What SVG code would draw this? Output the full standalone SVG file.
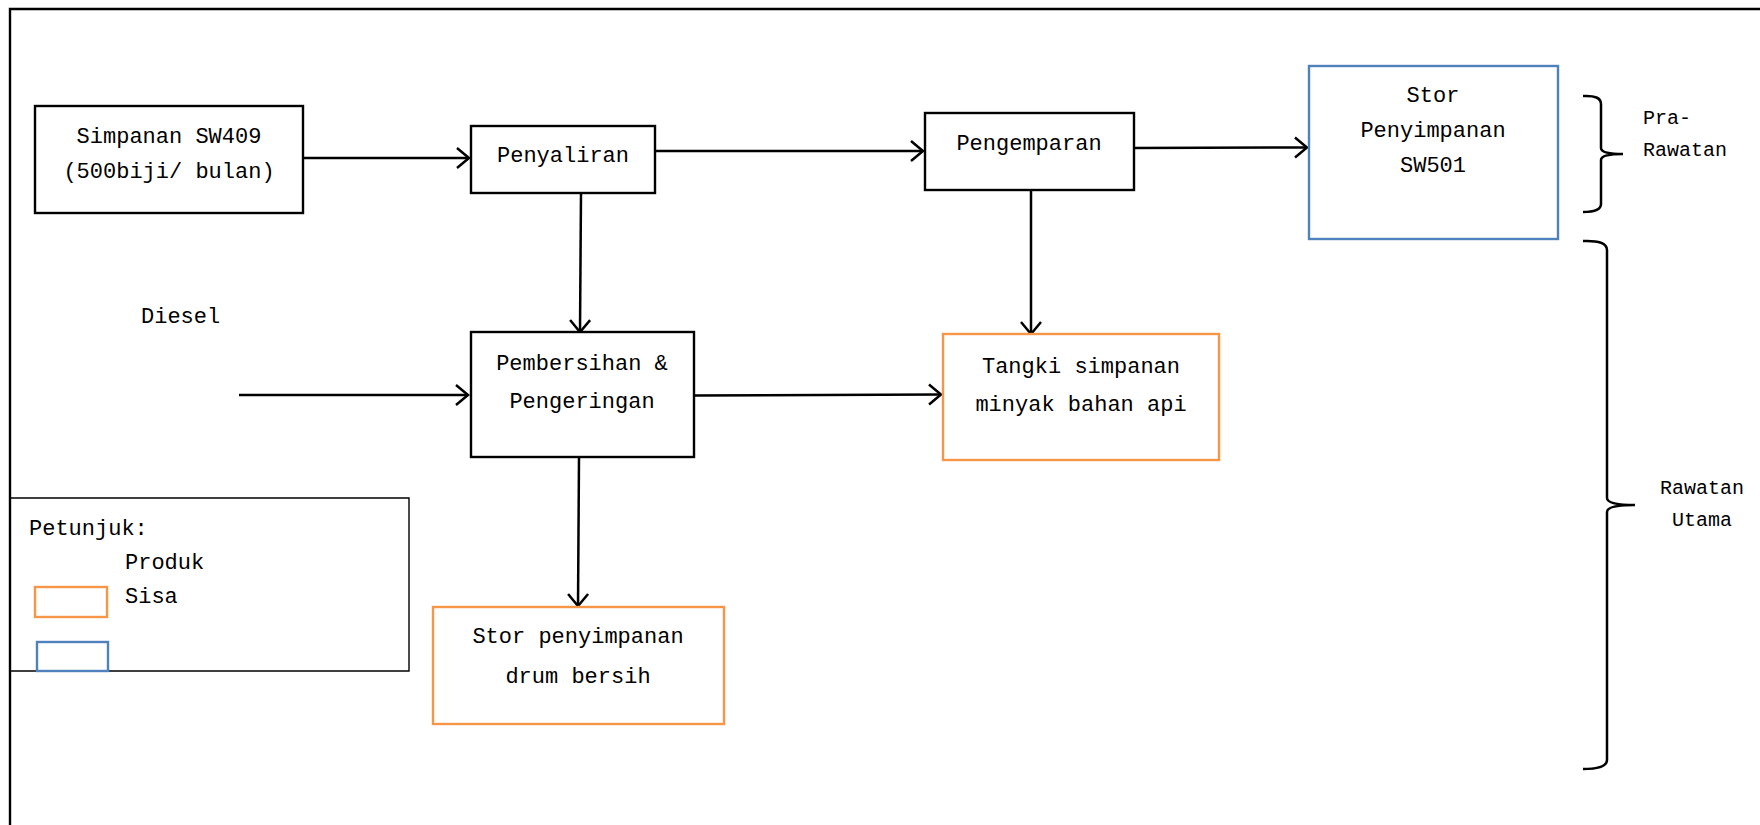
<svg xmlns="http://www.w3.org/2000/svg" width="1760" height="825" viewBox="0 0 1760 825">
<defs>
<style>
.box{fill:#fff;stroke:#000;stroke-width:2.4}
.org{fill:#fff;stroke:#F79646;stroke-width:2.4}
.blu{fill:#fff;stroke:#4F81BD;stroke-width:2.4}
.t{font-family:"Liberation Mono","DejaVu Sans Mono",monospace;font-size:22px;fill:#000}
.s{font-family:"Liberation Mono","DejaVu Sans Mono",monospace;font-size:20px;fill:#000}
.c{text-anchor:middle}
.ln{fill:none;stroke:#000;stroke-width:2.5}
</style>
<marker id="arr" markerWidth="24" markerHeight="24" refX="21" refY="12" orient="auto" markerUnits="userSpaceOnUse" viewBox="0 0 24 24">
<path d="M9,2 L21,12 L9,22" fill="none" stroke="#000" stroke-width="2.5"/>
</marker>
</defs>
<rect width="1760" height="825" fill="#fff"/>
<g id="frame">
<path d="M10,830 L10,9 L1765,9" fill="none" stroke="#000" stroke-width="2.4"/>
</g>
<g id="legend">
<path d="M10,498 L409,498 L409,671 L10,671" fill="none" stroke="#000" stroke-width="1.4"/>
<text class="t" x="29" y="535">Petunjuk:</text>
<text class="t" x="125" y="569">Produk</text>
<text class="t" x="125" y="603">Sisa</text>
<rect class="org" x="35" y="587" width="72" height="30"/>
<rect class="blu" x="37" y="642" width="71" height="29"/>
</g>
<g id="connectors">
<line class="ln" x1="303" y1="158" x2="469" y2="158" marker-end="url(#arr)"/>
<line class="ln" x1="655" y1="151" x2="923" y2="151" marker-end="url(#arr)"/>
<line class="ln" x1="1134" y1="148" x2="1307" y2="147.5" marker-end="url(#arr)"/>
<line class="ln" x1="581" y1="193" x2="580" y2="332" marker-end="url(#arr)"/>
<line class="ln" x1="239" y1="395" x2="468" y2="395" marker-end="url(#arr)"/>
<line class="ln" x1="694" y1="395.5" x2="941" y2="394.5" marker-end="url(#arr)"/>
<line class="ln" x1="1031" y1="190" x2="1031" y2="334" marker-end="url(#arr)"/>
<line class="ln" x1="579" y1="457" x2="578" y2="606" marker-end="url(#arr)"/>
</g>
<g id="simpanan">
<rect class="box" x="35" y="106" width="268" height="107"/>
<text class="t c" x="169" y="143">Simpanan SW409</text>
<text class="t c" x="169" y="178">(500biji/ bulan)</text>
</g>
<g id="penyaliran">
<rect class="box" x="471" y="126" width="184" height="67"/>
<text class="t c" x="563" y="162">Penyaliran</text>
</g>
<g id="pengemparan">
<rect class="box" x="925" y="113" width="209" height="77"/>
<text class="t c" x="1029" y="150">Pengemparan</text>
</g>
<g id="stor-sw501">
<rect class="blu" x="1309" y="66" width="249" height="173"/>
<text class="t c" x="1433" y="102">Stor</text>
<text class="t c" x="1433" y="137">Penyimpanan</text>
<text class="t c" x="1433" y="172">SW501</text>
</g>
<g id="diesel">
<text class="t" x="141" y="323">Diesel</text>
</g>
<g id="pembersihan">
<rect class="box" x="471" y="332" width="223" height="125"/>
<text class="t c" x="582" y="370">Pembersihan &amp;</text>
<text class="t c" x="582" y="408">Pengeringan</text>
</g>
<g id="tangki">
<rect class="org" x="943" y="334" width="276" height="126"/>
<text class="t c" x="1081" y="373">Tangki simpanan</text>
<text class="t c" x="1081" y="411">minyak bahan api</text>
</g>
<g id="stor-drum">
<rect class="org" x="433" y="607" width="291" height="117"/>
<text class="t c" x="578" y="643">Stor penyimpanan</text>
<text class="t c" x="578" y="683">drum bersih</text>
</g>
<g id="pra-rawatan">
<path class="ln" d="M1583,96 Q1601,95 1601,104 L1601,148 Q1601,154 1623,154 Q1601,154 1601,160 L1601,204 Q1601,212 1583,212"/>
<text class="s" x="1643" y="124">Pra-</text>
<text class="s" x="1643" y="156">Rawatan</text>
</g>
<g id="rawatan-utama">
<path class="ln" d="M1583,241 Q1607,240 1607,250 L1607,498 Q1607,505 1635,505 Q1607,505 1607,512 L1607,760 Q1607,769 1583,769"/>
<text class="s c" x="1702" y="494">Rawatan</text>
<text class="s c" x="1702" y="526">Utama</text>
</g>
</svg>
